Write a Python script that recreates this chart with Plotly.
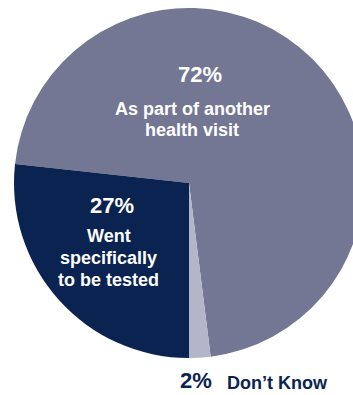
import plotly.graph_objects as go

# Survey answers: where the test took place
labels = ["As part of another health visit", "Don\u2019t Know", "Went specifically to be tested"]
values = [72, 2, 27]
colors = ["#737794", "#b3b5c8", "#0a2350"]

W, H = 370, 395
L, R, T, B = 14, 6, 8, 37
PW, PH = W - L - R, H - T - B

FONT = "Arial, Liberation Sans, sans-serif"
NAVY = "#0a2350"


def px(x):
    return (x - L) / PW


def py(y):
    return (H - B - y) / PH


fig = go.Figure(
    go.Pie(
        labels=labels,
        values=values,
        sort=False,
        direction="clockwise",
        rotation=180 - (values[0] + values[1]) / sum(values) * 360,
        marker=dict(colors=colors, line=dict(width=0)),
        textinfo="none",
        hoverinfo="label+percent",
        showlegend=False,
    )
)

annos = [
    # (x center, y center, text, size, colour, anchor)
    (200, 75, f"<b>{values[0]}%</b>", 22, "white", "center"),
    (192, 108.5, "<b>As part of another</b>", 18, "white", "center"),
    (192, 130, "<b>health visit</b>", 18, "white", "center"),
    (112, 205.5, f"<b>{values[2]}%</b>", 22, "white", "center"),
    (109, 235.5, "<b>Went</b>", 18, "white", "center"),
    (109, 257.5, "<b>specifically</b>", 18, "white", "center"),
    (109, 280, "<b>to be tested</b>", 18, "white", "center"),
    (214, 380.5, f"<b>{values[1]}%</b>", 22, NAVY, "right"),
    (225, 382.5, "<b>Don\u2019t Know</b>", 18, NAVY, "left"),
]
for x, y, text, size, color, anchor in annos:
    fig.add_annotation(
        x=px(x), y=py(y), xref="paper", yref="paper",
        text=text, showarrow=False,
        xanchor=anchor, yanchor="middle",
        font=dict(family=FONT, size=size, color=color),
    )

fig.update_layout(
    width=W, height=H,
    margin=dict(l=L, r=R, t=T, b=B, pad=0),
    paper_bgcolor="white",
    plot_bgcolor="white",
)

fig.write_html(
    "out.html",
    post_script="document.documentElement.style.overflow='hidden';document.body.style.overflow='hidden';",
)
